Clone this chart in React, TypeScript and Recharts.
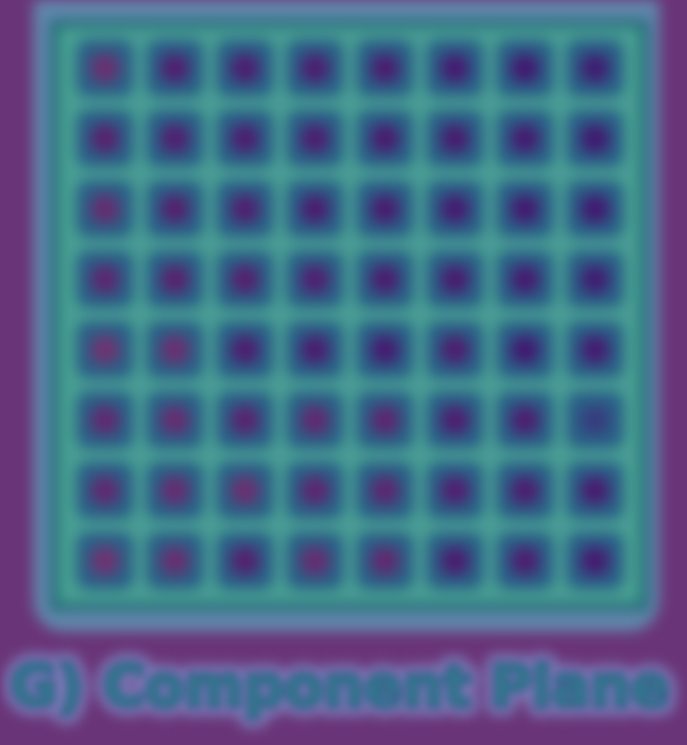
import React from "react";
import { ScatterChart, Scatter, XAxis, YAxis, ReferenceArea } from "recharts";

// Component plane values (0 = indigo/low, 1 = mauve/high), rows top to bottom
const planeRow1 = [0.8, 0.5, 0.45, 0.45, 0.42, 0.35, 0.3, 0.28];
const planeRow2 = [0.6, 0.5, 0.45, 0.45, 0.4, 0.38, 0.35, 0.3];
const planeRow3 = [0.75, 0.55, 0.5, 0.42, 0.4, 0.35, 0.32, 0.3];
const planeRow4 = [0.65, 0.6, 0.55, 0.5, 0.42, 0.4, 0.35, 0.28];
const planeRow5 = [0.85, 0.8, 0.45, 0.42, 0.35, 0.45, 0.3, 0.35];
const planeRow6 = [0.7, 0.75, 0.62, 0.7, 0.65, 0.45, 0.45, 0.1];
const planeRow7 = [0.7, 0.75, 0.8, 0.65, 0.65, 0.5, 0.45, 0.4];
const planeRow8 = [0.85, 0.78, 0.55, 0.75, 0.7, 0.42, 0.45, 0.35];
const planeRows = [planeRow1, planeRow2, planeRow3, planeRow4, planeRow5, planeRow6, planeRow7, planeRow8];
const title = "G) Component Plane";

const data = planeRows.flatMap((row, r) =>
  row.map((v, c) => ({ x: c + 0.5, y: r + 0.5, v, r, c }))
);

function lerp(a: number[], b: number[], t: number) {
  return a.map((av, i) => Math.round(av + (b[i] - av) * t));
}
function colorFor(v: number) {
  const stops: [number, number[]][] = [
    [0, [0x34, 0x4c, 0x84]],
    [0.3, [0x44, 0x12, 0x6e]],
    [0.6, [0x5c, 0x1c, 0x6c]],
    [1, [0x84, 0x38, 0x70]],
  ];
  for (let i = 1; i < stops.length; i++) {
    if (v <= stops[i][0]) {
      const t = (v - stops[i - 1][0]) / (stops[i][0] - stops[i - 1][0]);
      const c = lerp(stops[i - 1][1], stops[i][1], t);
      return `rgb(${c[0]},${c[1]},${c[2]})`;
    }
  }
  return "rgb(132,56,112)";
}

const CELL_BG = "#2a6088";

const CellShape = (props: any) => {
  const { cx, cy, payload } = props;
  if (cx == null || cy == null) return null;
  const id = `cp_${payload.r}_${payload.c}`;
  const color = colorFor(payload.v);
  return (
    <g>
      <defs>
        <radialGradient id={id}>
          <stop offset="0%" stopColor={color} />
          <stop offset="35%" stopColor={color} />
          <stop offset="100%" stopColor={CELL_BG} />
        </radialGradient>
      </defs>
      <rect x={cx - 35} y={cy - 35} width={70} height={70} fill="none" stroke="#5687a6" strokeWidth={3} />
      <rect x={cx - 29} y={cy - 29} width={58} height={58} rx={12} fill={CELL_BG} />
      <circle cx={cx} cy={cy} r={21} fill={`url(#${id})`} />
    </g>
  );
};

export default function App() {
  return (
    <div
      style={{
        position: "absolute",
        left: 0,
        top: 0,
        width: 687,
        height: 745,
        background: "#6a3578",
        overflow: "hidden",
      }}
    >
      <div style={{ position: "absolute", left: 0, top: 0, width: 687, height: 745, filter: "blur(7px)" }}>
        <ScatterChart width={687} height={745} margin={{ top: 33, right: 57, bottom: 149, left: 70 }}>
          <XAxis type="number" dataKey="x" domain={[0, 8]} hide />
          <YAxis type="number" dataKey="y" domain={[0, 8]} reversed hide />
          <ReferenceArea x1={-0.52} x2={8.42} y1={-1.2} y2={8.5} ifOverflow="visible" fill="#6189ad" fillOpacity={1} stroke="none" radius={30} />
          <ReferenceArea x1={-0.29} x2={8.27} y1={-0.2} y2={8.22} ifOverflow="visible" fill="#25687a" fillOpacity={1} stroke="none" />
          <ReferenceArea x1={-0.16} x2={8.14} y1={-0.08} y2={8.1} ifOverflow="visible" fill="#44a98c" fillOpacity={1} stroke="none" />
          <Scatter data={data} shape={CellShape} isAnimationActive={false} />
        </ScatterChart>
      </div>
      <svg width={687} height={745} style={{ position: "absolute", left: 0, top: 0, filter: "blur(4px)" }}>
        <text
          x={340}
          y={706}
          textAnchor="middle"
          fontFamily="DejaVu Sans"
          fontWeight="bold"
          fontSize={57}
          fill="#7a78b6"
          stroke="#7a78b6"
          strokeWidth={20}
          strokeLinejoin="round"
          style={{ filter: "blur(5px)" }}
        >
          {title}
        </text>
        <text
          x={340}
          y={706}
          textAnchor="middle"
          fontFamily="DejaVu Sans"
          fontWeight="bold"
          fontSize={57}
          fill="#34778f"
          stroke="#214e7e"
          strokeWidth={3.5}
          paintOrder="stroke"
        >
          {title}
        </text>
      </svg>
    </div>
  );
}
